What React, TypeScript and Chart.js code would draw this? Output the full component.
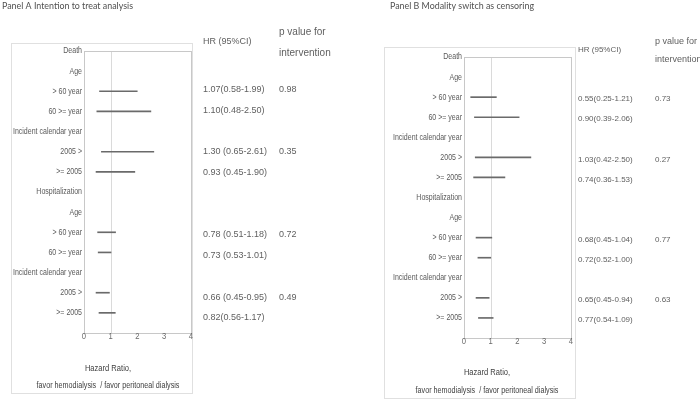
import React, { useEffect, useRef } from 'react';
import { Chart, registerables } from 'chart.js';
Chart.register(...registerables);

// ---------- data ----------
const rowLabels = [
  'Death', 'Age', '> 60 year', '60 >= year', 'Incident calendar year', '2005 >', '>= 2005',
  'Hospitalization', 'Age', '> 60 year', '60 >= year', 'Incident calendar year', '2005 >', '>= 2005', '',
];
const xTicks = [0, 1, 2, 3, 4];

const titleA = 'Panel A Intention to treat analysis';
const ciLowA = [null, null, 0.58, 0.48, null, 0.65, 0.45, null, null, 0.51, 0.53, null, 0.45, 0.56, null];
const ciHighA = [null, null, 1.99, 2.5, null, 2.61, 1.9, null, null, 1.18, 1.01, null, 0.95, 1.17, null];
const hrTextA = ['', '', '1.07(0.58-1.99)', '1.10(0.48-2.50)', '', '1.30 (0.65-2.61)', '0.93 (0.45-1.90)', '', '',
  '0.78 (0.51-1.18)', '0.73 (0.53-1.01)', '', '0.66 (0.45-0.95)', '0.82(0.56-1.17)', ''];
const pTextA = ['', '', '0.98', '', '', '0.35', '', '', '', '0.72', '', '', '0.49', '', ''];

const titleB = 'Panel B Modality switch as censoring';
const ciLowB = [null, null, 0.25, 0.39, null, 0.42, 0.36, null, null, 0.45, 0.52, null, 0.45, 0.54, null];
const ciHighB = [null, null, 1.21, 2.06, null, 2.5, 1.53, null, null, 1.04, 1.0, null, 0.94, 1.09, null];
const hrTextB = ['', '', '0.55(0.25-1.21)', '0.90(0.39-2.06)', '', '1.03(0.42-2.50)', '0.74(0.36-1.53)', '', '',
  '0.68(0.45-1.04)', '0.72(0.52-1.00)', '', '0.65(0.45-0.94)', '0.77(0.54-1.09)', ''];
const pTextB = ['', '', '0.73', '', '', '0.27', '', '', '', '0.77', '', '', '0.63', '', ''];

const hrHeader = 'HR (95%CI)';
const pHeader = ['p value for', 'intervention'];
const axisTitle = ['Hazard Ratio,', 'favor hemodialysis  / favor peritoneal dialysis'];

const SANS = '"Liberation Sans", Arial, sans-serif';
const TITLE_FONT = 'Lato, "Open Sans", sans-serif';

function txt(ctx: CanvasRenderingContext2D, s: string, x: number, y: number, size: number, color: string,
  align: CanvasTextAlign, sx = 1, family = SANS, fitW = 0) {
  if (!s) return;
  ctx.save();
  ctx.font = `${size}px ${family}`;
  ctx.fillStyle = color;
  ctx.textBaseline = 'middle';
  ctx.textAlign = align;
  let k = sx;
  if (fitW > 0) k = fitW / ctx.measureText(s).width;
  ctx.translate(x, y);
  ctx.scale(k, 1);
  ctx.fillText(s, 0, 0);
  ctx.restore();
}

type Cfg = {
  title: string; titleX: number; titleW: number;
  box: [number, number, number, number];
  pad: { left: number; right: number; top: number; bottom: number };
  low: (number | null)[]; high: (number | null)[];
  hr: string[]; p: string[];
  hrX: number; pX: number; hrSize: number; pSize: number;
  hrHeadY: number; hrHeadSize: number; pHeadY: [number, number]; pHeadSize: number;
  driftBase: number; driftSlope: number;
  axisCX: number; axisY: [number, number];
};

function makeDecor(cfg: Cfg) {
  return {
    id: 'forestDecor',
    beforeDatasetsDraw(chart: any) {
      const ctx: CanvasRenderingContext2D = chart.ctx;
      const { left, right, top, bottom } = chart.chartArea;
      const xs = chart.scales.x;
      ctx.save();
      ctx.lineWidth = 1;
      const [bx0, by0, bx1, by1] = cfg.box;
      ctx.strokeStyle = '#e0e0e0';
      ctx.strokeRect(bx0 + 0.5, by0 + 0.5, bx1 - bx0, by1 - by0);
      // reference line at HR = 1
      const x1 = Math.round(xs.getPixelForValue(1)) + 0.5;
      ctx.strokeStyle = '#dadada';
      ctx.beginPath();
      ctx.moveTo(x1, top);
      ctx.lineTo(x1, bottom);
      ctx.stroke();
      // plot frame
      ctx.strokeStyle = '#c8c8c8';
      ctx.strokeRect(Math.round(left) + 0.5, Math.round(top) + 0.5, Math.round(right - left), Math.round(bottom - top));
      ctx.restore();
    },
    afterDraw(chart: any) {
      const ctx: CanvasRenderingContext2D = chart.ctx;
      const { left, top, bottom } = chart.chartArea;
      const xs = chart.scales.x;
      const ys = chart.scales.y;
      txt(ctx, cfg.title, cfg.titleX, 6, 9, '#505050', 'left', 1, TITLE_FONT, cfg.titleW);
      rowLabels.forEach((lab, i) => {
        txt(ctx, lab, left - 2, ys.getPixelForValue(i), 9, '#5a5a5a', 'right', 0.78);
      });
      xTicks.forEach((t) => {
        txt(ctx, String(t), xs.getPixelForValue(t), bottom + 4, 9, '#6a6a6a', 'center', 0.85);
      });
      txt(ctx, axisTitle[0], cfg.axisCX, cfg.axisY[0], 9, '#404040', 'center', 0.84);
      txt(ctx, axisTitle[1], cfg.axisCX, cfg.axisY[1], 9, '#404040', 'center', 0.8);
      txt(ctx, hrHeader, cfg.hrX, cfg.hrHeadY, cfg.hrHeadSize, '#606060', 'left');
      txt(ctx, pHeader[0], cfg.pX, cfg.pHeadY[0], cfg.pHeadSize, '#606060', 'left');
      txt(ctx, pHeader[1], cfg.pX, cfg.pHeadY[1], cfg.pHeadSize, '#606060', 'left');
      const span = bottom - top;
      cfg.hr.forEach((s, i) => {
        const yy = ys.getPixelForValue(i);
        const off = cfg.driftBase + cfg.driftSlope * ((yy - top) / span);
        txt(ctx, s, cfg.hrX, yy + off, cfg.hrSize, '#606060', 'left');
        txt(ctx, cfg.p[i], cfg.pX, yy + off, cfg.pSize, '#606060', 'left');
      });
    },
  };
}

function Panel({ cfg, leftPx }: { cfg: Cfg; leftPx: number }) {
  const ref = useRef<HTMLCanvasElement>(null);
  useEffect(() => {
    if (!ref.current) return;
    const chart = new Chart(ref.current, {
      type: 'bar',
      data: {
        labels: rowLabels,
        datasets: [{
          data: cfg.low.map((l, i) => (l == null || cfg.high[i] == null ? null : [l, cfg.high[i] as number])) as any,
          backgroundColor: '#6a6a6a',
          borderWidth: 0,
          barThickness: 1,
        }],
      },
      options: {
        indexAxis: 'y',
        responsive: false,
        animation: false,
        layout: { padding: cfg.pad },
        plugins: { legend: { display: false }, tooltip: { enabled: false }, title: { display: false } },
        scales: {
          x: { type: 'linear', min: 0, max: 4, display: false },
          y: { type: 'category', offset: false, display: false },
        },
      },
      plugins: [makeDecor(cfg) as any],
    });
    return () => chart.destroy();
  }, [cfg]);
  return (
    <canvas ref={ref} width={350} height={402}
      style={{ position: 'absolute', left: leftPx, top: 0, width: 350, height: 402 }} />
  );
}

const cfgA: Cfg = {
  title: titleA, titleX: 2, titleW: 131,
  box: [11, 43, 192, 393],
  pad: { left: 84, right: 159, top: 51, bottom: 69 },
  low: ciLowA, high: ciHighA, hr: hrTextA, p: pTextA,
  hrX: 203, pX: 279, hrSize: 9, pSize: 9,
  hrHeadY: 42, hrHeadSize: 9, pHeadY: [32, 53], pHeadSize: 10,
  driftBase: -3.3, driftSlope: 8.9,
  axisCX: 108, axisY: [369, 386],
};

const cfgB: Cfg = {
  title: titleB, titleX: 40, titleW: 144,
  box: [34, 47, 225, 398],
  pad: { left: 114, right: 129, top: 57, bottom: 64 },
  low: ciLowB, high: ciHighB, hr: hrTextB, p: pTextB,
  hrX: 228, pX: 305, hrSize: 8, pSize: 8,
  hrHeadY: 50, hrHeadSize: 8, pHeadY: [42, 60], pHeadSize: 9,
  driftBase: 2, driftSlope: 0,
  axisCX: 137, axisY: [373, 391],
};

export default function App() {
  return (
    <div style={{ position: 'absolute', left: 0, top: 0, width: 700, height: 402, background: '#fff' }}>
      <Panel cfg={cfgA} leftPx={0} />
      <Panel cfg={cfgB} leftPx={350} />
    </div>
  );
}
